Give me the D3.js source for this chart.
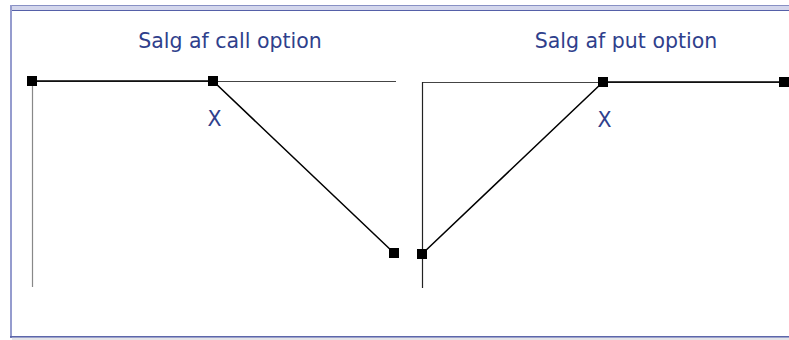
<!DOCTYPE html>
<html lang="da">
    <head>
        <meta charset="utf-8">
        <title>Salg af optioner</title>
        <script src="https://d3js.org/d3.v7.min.js"></script>
        <style type="text/css">
            body { margin: 0; background: #fff; }
            text { font-family: "DejaVu Sans", Verdana, sans-serif; fill: #2f3f8c; }
        </style>
    </head>
    <body>
        <script type="text/javascript">

            //consts
            const w = 789;
            const h = 340;

            //data: aktiekurs ved udløb (0 .. 2X) og gevinst for sælger
            const titles = ["Salg af call option", "Salg af put option"];
            const strikeLabel = "X";
            const spot = [0, 100, 200];
            const callPayoff = [0, 0, -100];
            const putPayoff = [-100, 0, 0];

            const panels = [
                {title: titles[0], payoff: callPayoff, x0: 32, x1: 394, yTop: 81, yLow: 253, axisRight: 396, axisBottom: 287, vColor: "#888", titleX: 230},
                {title: titles[1], payoff: putPayoff, x0: 422, x1: 784, yTop: 82, yLow: 254, axisRight: 800, axisBottom: 288, vColor: "#222", titleX: 626}
            ];

            //SVG
            const svg = d3.select("body")
                    .append("svg")
                    .attr("width", w)
                    .attr("height", h);

            //frame
            svg.append("rect").attr("x", 10).attr("y", 5).attr("width", w).attr("height", 6)
               .attr("fill", "#d3d6ec");
            svg.append("line").attr("x1", 10).attr("x2", w).attr("y1", 5.5).attr("y2", 5.5)
               .attr("stroke", "#8890c4").attr("stroke-width", 1);
            svg.append("line").attr("x1", 10).attr("x2", w).attr("y1", 10.5).attr("y2", 10.5)
               .attr("stroke", "#5560a8").attr("stroke-width", 1.2);
            svg.append("rect").attr("x", 10).attr("y", 5).attr("width", 2).attr("height", 333)
               .attr("fill", "#959cce");
            svg.append("rect").attr("x", 10).attr("y", 336).attr("width", w).attr("height", 1.6)
               .attr("fill", "#5c66aa");
            svg.append("rect").attr("x", 12).attr("y", 338).attr("width", w).attr("height", 2)
               .attr("fill", "#e4e4e8");

            panels.forEach(p => {
                const xScale = d3.scaleLinear()
                                 .domain([0, 200])
                                 .range([p.x0, p.x1]);
                const yScale = d3.scaleLinear()
                                 .domain([-100, 0])
                                 .range([p.yLow, p.yTop]);

                const g = svg.append("g");

                //title
                g.append("text")
                 .attr("x", p.titleX)
                 .attr("y", 48)
                 .attr("text-anchor", "middle")
                 .style("font-size", "20.5px")
                 .text(p.title);

                //axes
                g.append("line")
                 .attr("x1", xScale(0)).attr("x2", p.axisRight)
                 .attr("y1", yScale(0) + 0.5).attr("y2", yScale(0) + 0.5)
                 .attr("stroke", "#444").attr("stroke-width", 1);
                g.append("line")
                 .attr("x1", xScale(0) + 0.5).attr("x2", xScale(0) + 0.5)
                 .attr("y1", yScale(0)).attr("y2", p.axisBottom)
                 .attr("stroke", p.vColor).attr("stroke-width", 1.2);

                //payoff line
                const pts = spot.map((s, i) => [s, p.payoff[i]]);
                const line = d3.line()
                               .x(d => xScale(d[0]))
                               .y(d => yScale(d[1]));
                g.append("path")
                 .datum(pts)
                 .attr("d", line)
                 .attr("fill", "none")
                 .attr("stroke", "#000")
                 .attr("stroke-width", 1.5);

                //markers
                g.selectAll("rect")
                 .data(pts)
                 .enter()
                 .append("rect")
                 .attr("x", d => xScale(d[0]) - 5)
                 .attr("y", d => yScale(d[1]) - 5)
                 .attr("width", 10)
                 .attr("height", 10)
                 .attr("fill", "#000");

                //strike label
                g.append("text")
                 .attr("x", xScale(100) + 1.5)
                 .attr("y", yScale(0) + 45)
                 .attr("text-anchor", "middle")
                 .style("font-size", "20.5px")
                 .text(strikeLabel);
            });

        </script>
    </body>
</html>
